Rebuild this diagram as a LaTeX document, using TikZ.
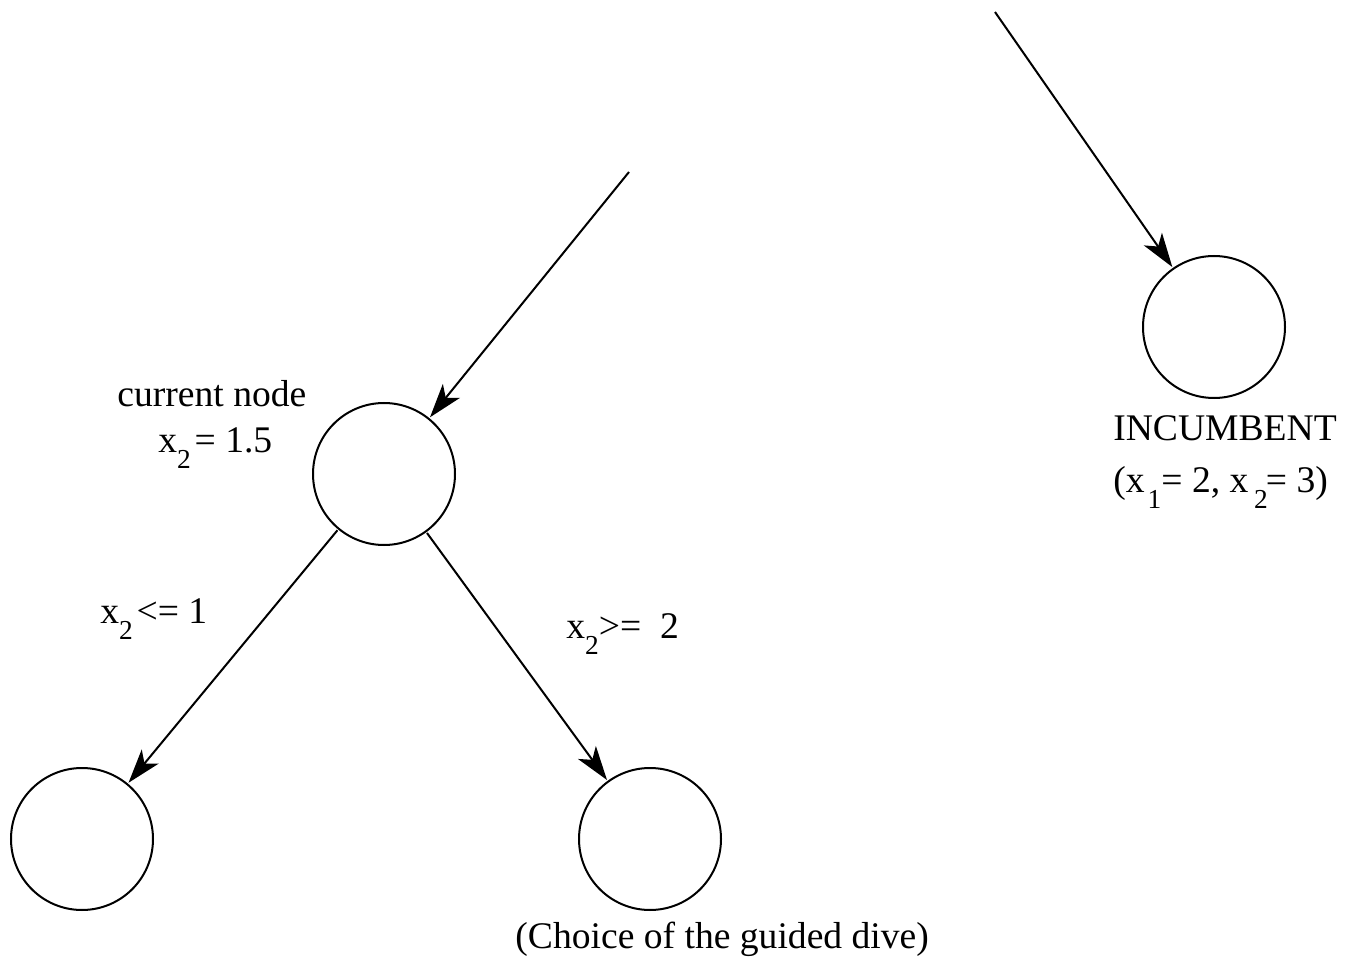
\documentclass[tikz,border=0pt]{standalone}
\usepackage{fontspec}
\setmainfont{Liberation Serif}
\usetikzlibrary{arrows.meta}
\newcommand\lowsub[1]{\raisebox{-0.43em}{\fontsize{13.7}{15}\selectfont #1}}
\begin{document}
\begin{tikzpicture}[x=0.5pt,y=-0.5pt,
  treenode/.style={circle,draw,line width=1pt,minimum size=71pt,inner sep=0pt,outer sep=1pt},
  branch/.style={line width=1pt,-{Stealth[length=17pt,width=11pt,inset=4.5pt]}},
  lbl/.style={anchor=base west,inner sep=0pt,font=\fontsize{18.8}{22}\selectfont}]
\useasboundingbox (0,0) rectangle (1345,968);
% tree nodes
\node[treenode] (cur) at (384,474) {};
\node[treenode] (left) at (82,839) {};
\node[treenode] (right) at (650,839) {};
\node[treenode] (inc) at (1214,327) {};
% free ends of the incoming arcs
\coordinate (curin) at (629,172);
\coordinate (incin) at (995,12);
% arcs
\draw[branch] (curin) -- (cur);
\draw[branch] (incin) -- (inc);
\draw[branch] (cur) -- (left);
\draw[branch] (cur) -- (right);
% labels
\node[lbl] (tcur) at (117,407) {current node};
\node[lbl] (tval) at (158,452) {x\lowsub{2}\kern0.1em= 1.5};
\node[lbl] (tle) at (100,623) {x\lowsub{2}\kern0.1em<= 1};
\node[lbl] (tge) at (566,638) {x\lowsub{2}>=\ \ 2};
\node[lbl,anchor=base] (tinc) at (1225,441) {INCUMBENT};
\node[lbl] (tsol) at (1113,492) {(x\kern0.08em\lowsub{1}= 2, x\kern0.15em\lowsub{2}\kern-0.05em= 3)};
\node[lbl] (tdive) at (515,948) {(Choice of the guided dive)};
\end{tikzpicture}
\end{document}
